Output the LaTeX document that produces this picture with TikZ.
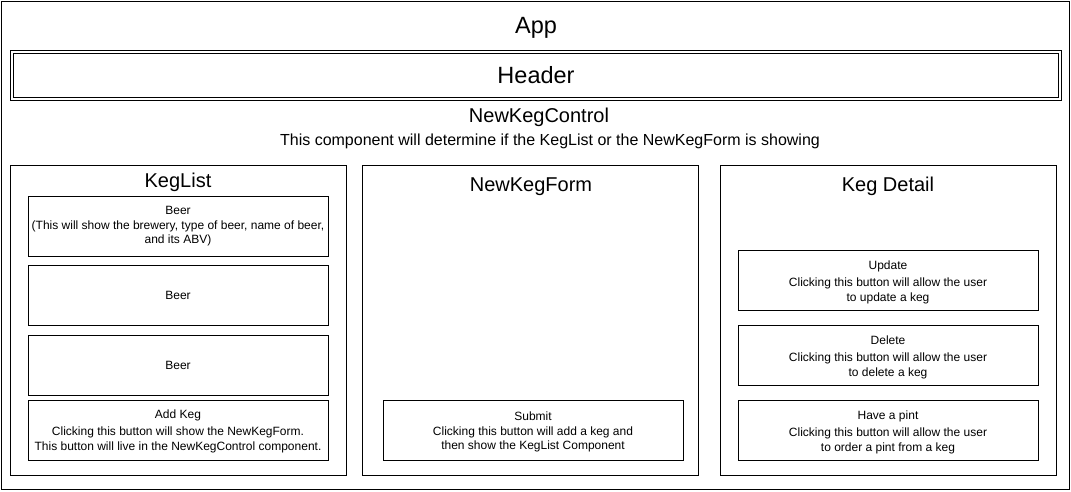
\documentclass[tikz,border=0pt]{standalone}
\usepackage{fontspec}
\setmainfont{Liberation Sans}
\begin{document}
\begin{tikzpicture}[x=1pt,y=-1pt,
  frame/.style={draw=black, line width=1pt, inner sep=0pt, rectangle},
  btn/.style={frame, minimum width=300pt, minimum height=60pt},
  btext/.style={align=center, inner sep=0pt, font=\fontsize{12}{14.5}\selectfont},
  panel/.style={frame, minimum width=336pt, minimum height=310pt},
  bigtitle/.style={font=\fontsize{23.5}{28}\selectfont, inner sep=0pt, anchor=base},
  midtitle/.style={font=\fontsize{20}{24}\selectfont, inner sep=0pt, anchor=base},
  subtext/.style={font=\fontsize{16}{19}\selectfont, inner sep=0pt, anchor=base}]
\useasboundingbox (0,0) rectangle (1071,491);
\node[frame, minimum width=1068pt, minimum height=488pt] (app) at (535,245) {};
\node[bigtitle] (apptitle) at (536,33.5) {App};
\node[frame, double=white, double distance=2pt, minimum width=1048pt, minimum height=47pt] (header) at (535.5,75) {};
\node[bigtitle] (headertitle) at (536,83.5) {Header};
\node[midtitle] (nkc) at (539,122) {NewKegControl};
\node[subtext] (nkcdesc) at (550,145) {This component will determine if the KegList or the NewKegForm is showing};

\node[panel] (keglist) at (178,320) {};
\node[midtitle] (keglisttitle) at (178,187) {KegList};
\node[btn] (beer1) at (178,226) {};
\node[btext, yshift=-0.5pt] (beer1text) at (beer1.center) {Beer\\(This will show the brewery, type of beer, name of beer,\\and its ABV)};
\node[btn] (beer2) at (178,295) {};
\node[btext] (beer2text) at (beer2.center) {Beer};
\node[btn] (beer3) at (178,365) {};
\node[btext] (beer3text) at (beer3.center) {Beer};
\node[btn] (addkeg) at (178,430) {};
\node[btext, yshift=-1pt] (addkegtext) at (addkeg.center) {Add Keg\\[3pt]Clicking this button will show the NewKegForm.\\This button will live in the NewKegControl component.};

\node[panel] (form) at (530,320) {};
\node[midtitle] (formtitle) at (531,191) {NewKegForm};
\node[btn] (submit) at (533,430) {};
\node[btext, yshift=-2pt] (submittext) at (submit.center) {Submit\\Clicking this button will add a keg and\\then show the KegList Component};

\node[panel] (detail) at (888,320) {};
\node[midtitle] (detailtitle) at (888,191) {Keg Detail};
\node[btn] (update) at (888,280) {};
\node[btext, yshift=-2pt] (updatetext) at (update.center) {Update\\[3pt]Clicking this button will allow the user\\to update a keg};
\node[btn] (delete) at (888,355) {};
\node[btext, yshift=-2pt] (deletetext) at (delete.center) {Delete\\[3pt]Clicking this button will allow the user\\to delete a keg};
\node[btn] (pint) at (888,430) {};
\node[btext, yshift=-2pt] (pinttext) at (pint.center) {Have a pint\\[3pt]Clicking this button will allow the user\\to order a pint from a keg};
\end{tikzpicture}
\end{document}
